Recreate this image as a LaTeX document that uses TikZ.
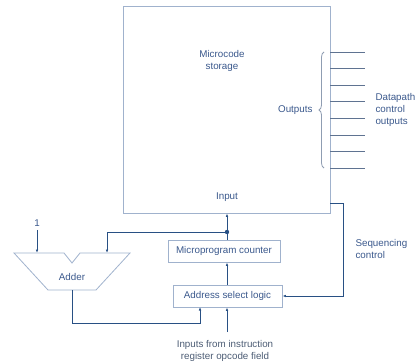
\documentclass[tikz,border=0pt]{standalone}
\usepackage{fontspec}
\setmainfont{Liberation Sans}
\usepackage{xcolor}
\usepackage{tikz}
\usetikzlibrary{positioning, arrows.meta, decorations.pathreplacing}
\definecolor{boxblue}{RGB}{160,178,205}
\definecolor{wireblue}{RGB}{40,80,132}
\definecolor{txtblue}{RGB}{58,88,140}
\definecolor{outgray}{RGB}{95,115,145}

\begin{document}
\begin{tikzpicture}[
    x=1pt, y=-1pt,
    every node/.style={font=\fontsize{9.8}{12}\selectfont, text=txtblue},
    blk/.style={draw=boxblue, line width=0.8pt, inner sep=0pt},
    wire/.style={draw=wireblue, line width=0.8pt},
    arr/.style={wire, -{Latex[length=3.5pt,width=2.6pt]}},
    outl/.style={draw=outgray, line width=0.8pt},
  ]
  \useasboundingbox (0,0) rectangle (417,363);

  % microcode store
  \node[blk, minimum width=207pt, minimum height=207pt] (store) at (226.5,109.5) {};
  \node[align=center] (storelbl) at (222,61) {Microcode\\storage};
  \node (inlbl) at (227,197) {Input};

  % control outputs
  \foreach \k [evaluate=\k as \yy using 52+16.6*\k] in {0,...,7}
    \draw[outl] (store.east |- 0,\yy) -- ++(35,0);
  \draw[draw=outgray!70, line width=0.8pt, decorate, decoration={brace, amplitude=5pt}]
    (324,168) -- (324,52);
  \node[anchor=east] (outlbl) at (316,110) {Outputs};
  \node[anchor=west, align=left] (dplbl) at (372,110) {Datapath\\control\\outputs};

  % sequencer
  \node[blk, minimum width=112pt, minimum height=22pt] (counter) at (224,251) {Microprogram counter};
  \node[blk, minimum width=109pt, minimum height=22pt] (addr) at (227.5,296) {Address select logic};
  \coordinate (split) at (227,232);
  \coordinate (seq) at (330,203);
  \node[anchor=west, align=left] (seqlbl) at (352,249) {Sequencing\\control};

  % adder
  \draw[blk] (14,253) -- (64,253) -- (72,263) -- (80,253) -- (130,253)
    -- (96,290) -- (48,290) -- cycle;
  \node (addlbl) at (72,277) {Adder};
  \coordinate (addin1) at (37,253);
  \coordinate (addin2) at (107,253);
  \coordinate (addout) at (72,290);
  \node (one) at (37,223) {1};

  \node[align=center, text=outgray!80!black] (opclbl) at (225,350.5) {Inputs from instruction\\register opcode field};
  \coordinate (opc) at (227,332);
  \coordinate (addret) at (200,307);

  % wires
  \draw[arr] (addr.north -| split) -- (counter.south -| split);
  \draw[arr] (counter.north -| split) -- (store.south -| split);
  \fill[wireblue] (split) circle (2.2pt);
  \draw[arr] (split) -| (addin2);
  \draw[arr] (one.south) -- (addin1);
  \draw[arr] (seq) -- (343,203) |- (addr.east);
  \draw[arr] (addout) |- (200,323) -- (addret);
  \draw[arr] (opc) -- (addr.south -| opc);
\end{tikzpicture}
\end{document}
